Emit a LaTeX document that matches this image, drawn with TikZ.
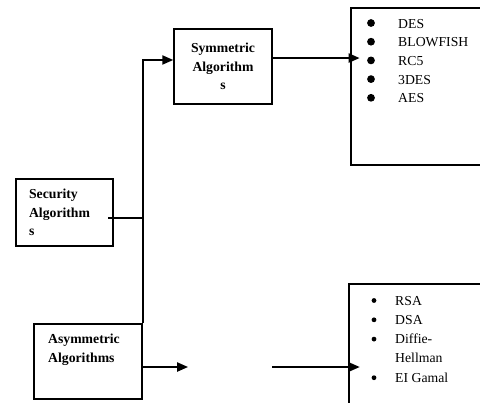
\documentclass[tikz,border=0pt]{standalone}
\usepackage{fontspec}
\setmainfont{Liberation Serif}
\usetikzlibrary{arrows.meta, positioning}

\begin{document}
\begin{tikzpicture}[
    x=0.875pt, y=-0.875pt,
    box/.style={draw, line width=1.4pt, rectangle, inner sep=0pt},
    title/.style={font=\fontsize{12}{16.2}\selectfont\bfseries},
    item/.style={font=\fontsize{12}{14}\selectfont, inner sep=0pt, anchor=base west},
    link/.style={line width=1.4pt},
    arrow/.style={link, -{Triangle[length=9.5pt, width=8pt]}}
]
    \useasboundingbox (0,0) rectangle (480,402);
    \clip (0,0) rectangle (480,402);

    % boxes
    \node[box, title, minimum width=85.75pt, minimum height=65.6pt, align=center] (sym) at (223,66.5) {Symmetric\\Algorithm\\s};
    \node[box, title, minimum height=58.6pt, text width=62pt, inner xsep=11.4pt, align=left] (sec) at (64.5,212.5) {Security\\Algorithm\\s};
    \node[box, minimum width=94.5pt, minimum height=65.6pt] (asym) at (88,361.5) {};
    \node[title, inner sep=0pt, anchor=north west, align=left] (asymtxt) at (48,334) {Asymmetric\\Algorithms};
    \node[box, minimum width=130pt, minimum height=137.4pt] (symlist) at (425.5,86.5) {};
    \node[box, minimum width=132pt, minimum height=119pt] (asymlist) at (424.5,352) {};

    % symmetric list
    \foreach \name [count=\i] in {DES, BLOWFISH, RC5, 3DES, AES} {
        \fill (371,{23+(\i-1)*18.7}) circle (3.4pt);
        \node[item] (symitem\i) at (398,{28+(\i-1)*18.7}) {\name};
    }

    % asymmetric list
    \foreach \name [count=\i] in {RSA, DSA, Diffie-, Hellman, EI Gamal}
        \node[item] (asymitem\i) at (395,{305+(\i-1)*19.3}) {\name};
    \foreach \i in {1,2,3,5}
        \fill (374,{300.5+(\i-1)*19.3}) circle (2.1pt);

    % connectors
    \coordinate (secout) at (108,218);
    \coordinate (fork) at (142,218);
    \coordinate (gapin) at (188,367);
    \coordinate (gapout) at (272,367);

    \draw[link] (secout) -- (fork);
    \draw[arrow] (asym.north east) |- ([yshift=5.7pt]sym.west);
    \draw[arrow, shorten >=-8pt] ([yshift=7.4pt]sym.east) -- ([yshift=7.4pt]sym.east -| symlist.west);
    \draw[arrow] (asym.east |- gapin) -- (gapin);
    \draw[arrow, shorten >=-10pt] (gapout) -- (gapout -| asymlist.west);
\end{tikzpicture}
\end{document}
